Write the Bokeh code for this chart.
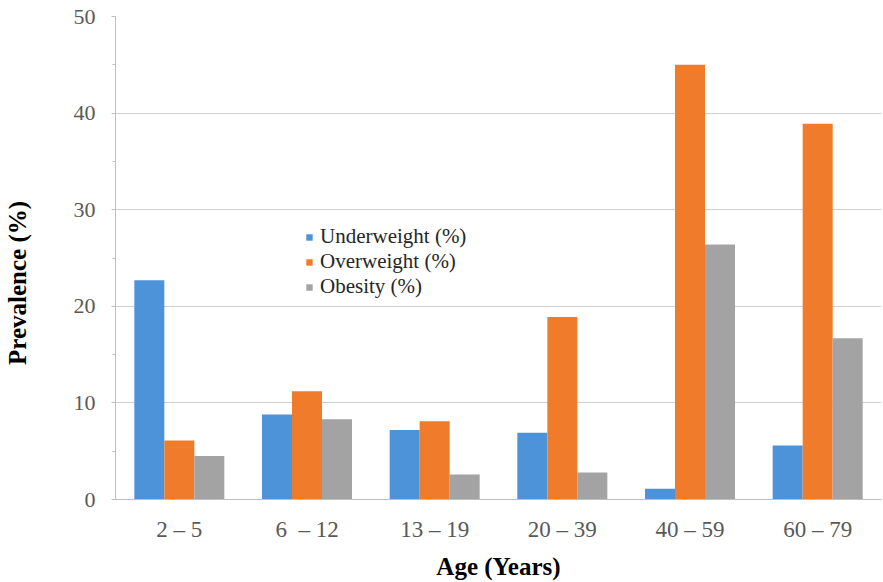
from bokeh.plotting import figure
from bokeh.models import ColumnDataSource, FactorRange, Range1d, SingleIntervalTicker, Legend, LegendItem
from bokeh.transform import dodge
from bokeh.embed import file_html
from bokeh.resources import INLINE

# Prevalence by age group
age_groups = ["2 \u2013 5", "6 \u00a0\u2013 12", "13 \u2013 19", "20 \u2013 39", "40 \u2013 59", "60 \u2013 79"]
underweight = [22.7, 8.8, 7.2, 6.9, 1.1, 5.6]
overweight = [6.1, 11.2, 8.1, 18.9, 45.0, 38.9]
obesity = [4.5, 8.3, 2.6, 2.8, 26.4, 16.7]
series_names = ["Underweight (%)", "Overweight (%)", "Obesity (%)"]
series_colors = ["#4D93DA", "#F07B2A", "#A3A3A3"]

source = ColumnDataSource(data=dict(
    age=age_groups, under=underweight, over=overweight, obese=obesity,
))

FONT = "Liberation Serif"

p = figure(
    x_range=FactorRange(*age_groups, range_padding=0),
    y_range=Range1d(0, 50),
    width=883, height=582,
    output_backend="svg", toolbar_location=None,
    min_border_left=115, min_border_right=2,
    min_border_top=16, min_border_bottom=79,
)
p.outline_line_color = None
p.background_fill_color = "white"
p.border_fill_color = "white"

bar_w = 0.235
cols = ["under", "over", "obese"]
renderers = []
for i, (col, color) in enumerate(zip(cols, series_colors)):
    r = p.vbar(x=dodge("age", (i - 1) * bar_w, range=p.x_range), top=col,
               width=bar_w, source=source, fill_color=color, line_color=None)
    renderers.append(r)

# y axis; trailing no-break spaces push the rotated title a little below mid-height
p.yaxis.ticker = SingleIntervalTicker(interval=10, num_minor_ticks=2)
p.yaxis.axis_label = "Prevalence (%)" + "\u00a0" * 8
p.yaxis.axis_label_text_font = FONT
p.yaxis.axis_label_text_font_style = "bold"
p.yaxis.axis_label_text_font_size = "25px"
p.yaxis.axis_label_text_color = "#000000"
p.yaxis.axis_label_standoff = 40
p.yaxis.major_label_text_font = FONT
p.yaxis.major_label_text_font_size = "22px"
p.yaxis.major_label_text_color = "#595959"
p.yaxis.major_label_standoff = 16
p.yaxis.axis_line_color = "#BFBFBF"
p.yaxis.major_tick_line_color = "#BFBFBF"
p.yaxis.major_tick_out = 4
p.yaxis.major_tick_in = 0
p.yaxis.minor_tick_line_color = "#BFBFBF"
p.yaxis.minor_tick_out = 3
p.yaxis.minor_tick_in = 0

# x axis
p.xaxis.axis_label = "Age (Years)"
p.xaxis.axis_label_text_font = FONT
p.xaxis.axis_label_text_font_style = "bold"
p.xaxis.axis_label_text_font_size = "25px"
p.xaxis.axis_label_text_color = "#000000"
p.xaxis.axis_label_standoff = 8
p.xaxis.major_label_text_font = FONT
p.xaxis.major_label_text_font_size = "23px"
p.xaxis.major_label_text_color = "#595959"
p.xaxis.major_label_standoff = 11
p.xaxis.axis_line_color = "#BFBFBF"
p.xaxis.major_tick_line_color = None

p.xgrid.grid_line_color = None
p.ygrid.grid_line_color = "#D0D0D0"
p.ygrid.grid_line_width = 1

legend = Legend(
    items=[LegendItem(label=n, renderers=[r]) for n, r in zip(series_names, renderers)],
    location=(190, 200),
    padding=0, margin=0, spacing=0,
    glyph_width=8, glyph_height=8, label_standoff=7,
    label_text_font=FONT, label_text_font_size="21px", label_text_color="#262626",
    label_height=20,
    border_line_color=None, background_fill_alpha=0,
)
p.add_layout(legend, "center")

open("out.html", "w").write(file_html(p, INLINE))
